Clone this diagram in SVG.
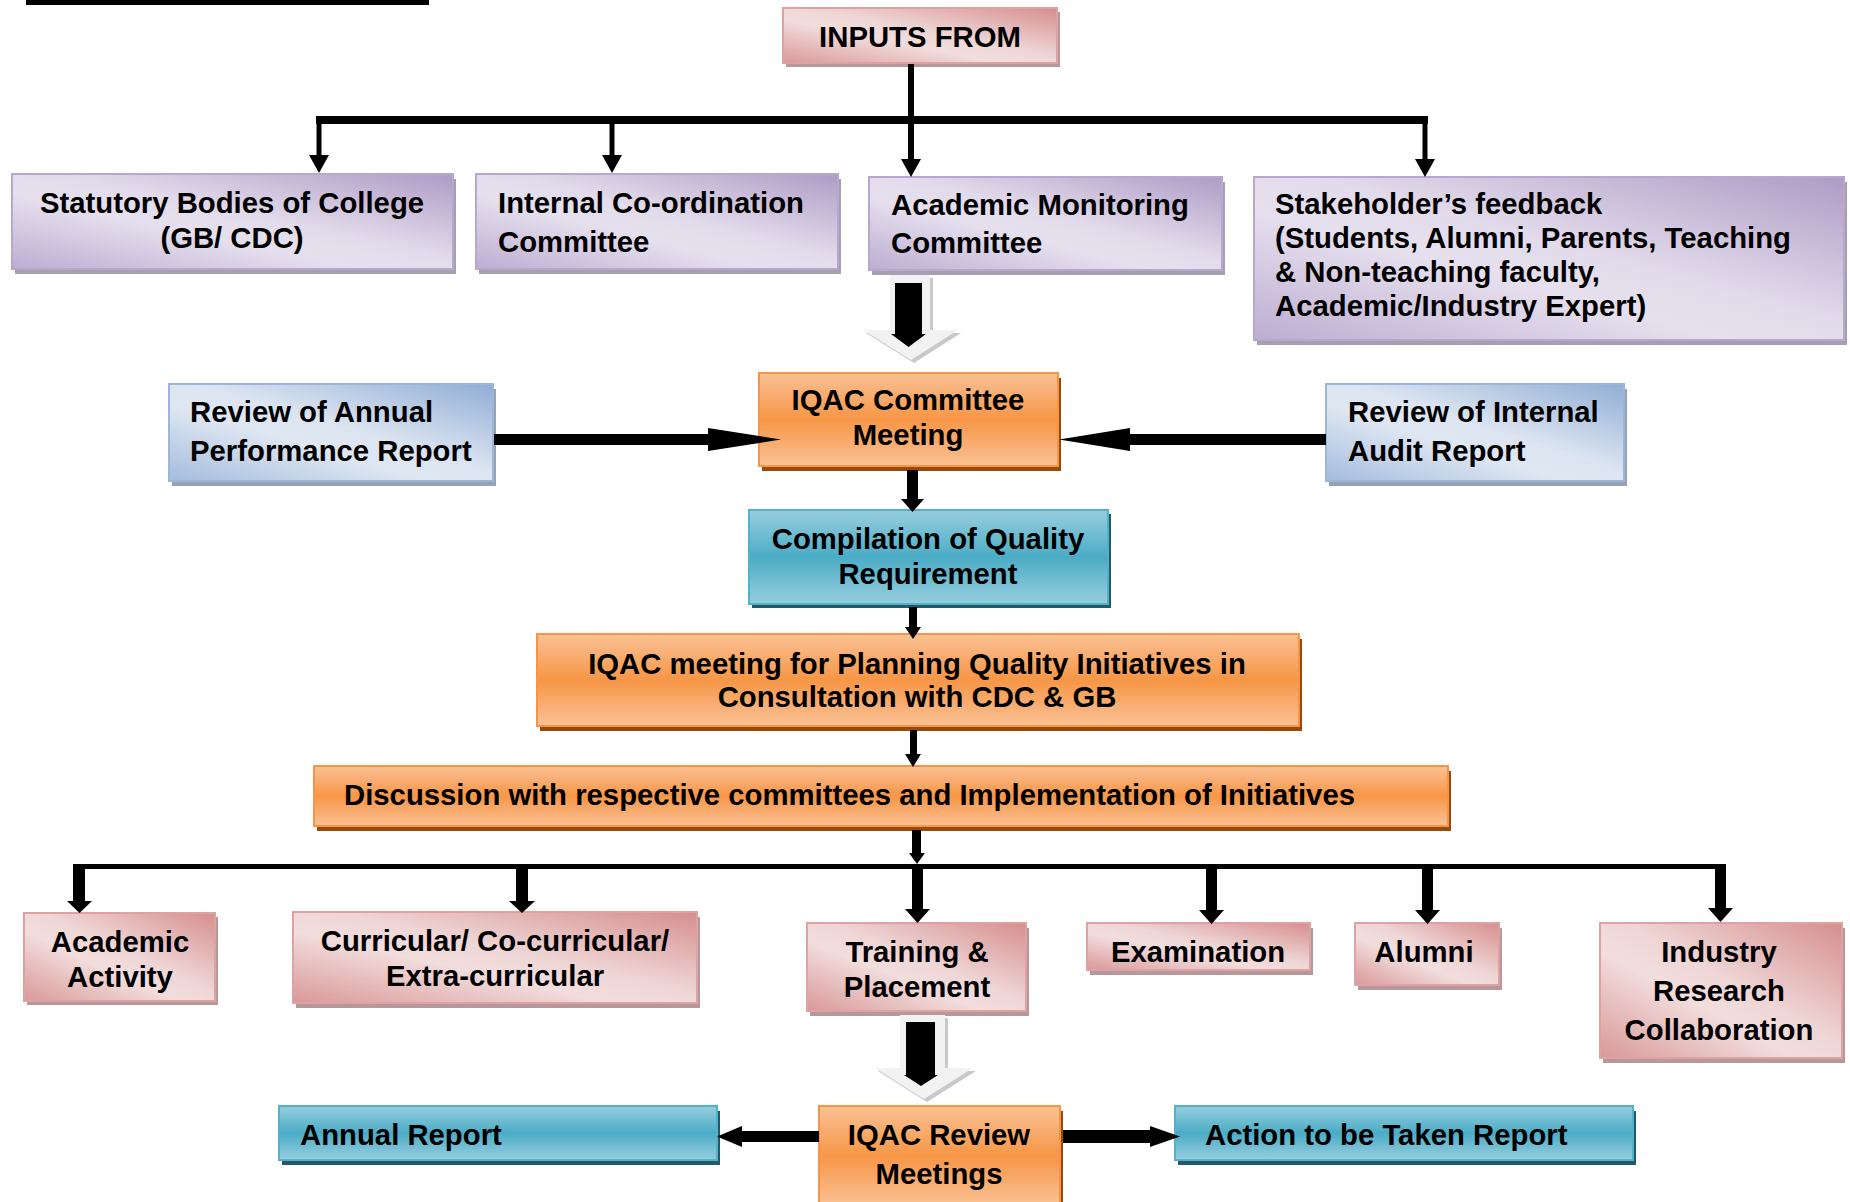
<svg xmlns="http://www.w3.org/2000/svg" width="1850" height="1202" viewBox="0 0 1850 1202">
<defs>
  <linearGradient id="gPink" x1="1" y1="0" x2="0" y2="1">
    <stop offset="0" stop-color="#d68e8e"/>
    <stop offset="0.45" stop-color="#efd6d6"/>
    <stop offset="0.6" stop-color="#f2dddd"/>
    <stop offset="1" stop-color="#d99898"/>
  </linearGradient>
  <linearGradient id="gPurple" x1="1" y1="0" x2="0" y2="1">
    <stop offset="0" stop-color="#ae9bc5"/>
    <stop offset="0.45" stop-color="#e2dbeb"/>
    <stop offset="0.6" stop-color="#e6e0ee"/>
    <stop offset="1" stop-color="#bcadd1"/>
  </linearGradient>
  <linearGradient id="gBlue" x1="1" y1="0" x2="0" y2="1">
    <stop offset="0" stop-color="#90add5"/>
    <stop offset="0.45" stop-color="#dbe4f0"/>
    <stop offset="0.6" stop-color="#dfe7f2"/>
    <stop offset="1" stop-color="#a4bcdd"/>
  </linearGradient>
  <linearGradient id="gOrange" x1="0" y1="0" x2="0" y2="1">
    <stop offset="0" stop-color="#fac291"/>
    <stop offset="0.12" stop-color="#f9b783"/>
    <stop offset="0.5" stop-color="#f79646"/>
    <stop offset="0.88" stop-color="#f9b783"/>
    <stop offset="1" stop-color="#fac291"/>
  </linearGradient>
  <linearGradient id="gTeal" x1="0" y1="0" x2="0" y2="1">
    <stop offset="0" stop-color="#93cddd"/>
    <stop offset="0.12" stop-color="#86c6d8"/>
    <stop offset="0.5" stop-color="#4bacc6"/>
    <stop offset="0.88" stop-color="#86c6d8"/>
    <stop offset="1" stop-color="#93cddd"/>
  </linearGradient>
</defs>
<style>
  .t{font-family:"Liberation Sans",Arial,Helvetica,sans-serif;font-weight:bold;font-size:29.3px;fill:#000}
  .c{text-anchor:middle}
  .pink{fill:url(#gPink);stroke:#dda3a3;stroke-width:2}
  .pinkS{fill:#b7989a}
  .purple{fill:url(#gPurple);stroke:#b8a8cd;stroke-width:2}
  .purpleS{fill:#a59fb1}
  .blue{fill:url(#gBlue);stroke:#9cb6da;stroke-width:2}
  .blueS{fill:#97a3b3}
  .orange{fill:url(#gOrange);stroke:#f7944a;stroke-width:2}
  .orangeS{fill:#9a4a08}
  .teal{fill:url(#gTeal);stroke:#53b1ca;stroke-width:2}
  .tealS{fill:#215a69}
  .k{fill:#000}
  .ln{stroke:#000;fill:none}
  .hollow{fill:#f2f2f2}
  .hollowS{fill:#c9c9c9}
</style>

<rect x="26" y="0" width="403" height="5" fill="#000"/>

<g id="node-inputs">
  <rect class="pinkS" x="786" y="12" width="274" height="55"/>
  <rect class="pink" x="783" y="8" width="274" height="55"/>
  <text class="t c" x="920" y="47">INPUTS FROM</text>
</g>

<g id="node-statutory">
  <rect class="purpleS" x="15" y="179" width="441" height="95"/>
  <rect class="purple" x="12" y="174" width="441" height="95"/>
  <text class="t c" x="232" y="213">Statutory Bodies of College</text>
  <text class="t c" x="232" y="248">(GB/ CDC)</text>
</g>

<g id="node-internal">
  <rect class="purpleS" x="479" y="179" width="362" height="95"/>
  <rect class="purple" x="476" y="174" width="362" height="95"/>
  <text class="t" x="498" y="213">Internal Co-ordination</text>
  <text class="t" x="498" y="252">Committee</text>
</g>

<g id="node-academic-monitoring">
  <rect class="purpleS" x="872" y="182" width="353" height="93"/>
  <rect class="purple" x="869" y="177" width="353" height="93"/>
  <text class="t" x="891" y="215">Academic Monitoring</text>
  <text class="t" x="891" y="253">Committee</text>
</g>

<g id="node-stakeholder">
  <rect class="purpleS" x="1257" y="182" width="590" height="163"/>
  <rect class="purple" x="1254" y="177" width="590" height="163"/>
  <text class="t" x="1275" y="214">Stakeholder’s feedback</text>
  <text class="t" x="1275" y="248">(Students, Alumni, Parents, Teaching</text>
  <text class="t" x="1275" y="282">&amp; Non-teaching faculty,</text>
  <text class="t" x="1275" y="316">Academic/Industry Expert)</text>
</g>

<g id="node-review-annual">
  <rect class="blueS" x="172" y="389" width="324" height="97"/>
  <rect class="blue" x="169" y="384" width="324" height="97"/>
  <text class="t" x="190" y="422">Review of Annual</text>
  <text class="t" x="190" y="461">Performance Report</text>
</g>

<g id="node-iqac-committee">
  <rect class="orangeS" x="762" y="378" width="299" height="93"/>
  <rect class="orange" x="759" y="373" width="299" height="93"/>
  <text class="t c" x="908" y="410">IQAC Committee</text>
  <text class="t c" x="908" y="445">Meeting</text>
</g>

<g id="node-review-internal">
  <rect class="blueS" x="1329" y="389" width="298" height="97"/>
  <rect class="blue" x="1326" y="384" width="298" height="97"/>
  <text class="t" x="1348" y="422">Review of Internal</text>
  <text class="t" x="1348" y="461">Audit Report</text>
</g>

<g id="node-compilation">
  <rect class="tealS" x="752" y="514" width="359" height="94"/>
  <rect class="teal" x="749" y="510" width="359" height="94"/>
  <text class="t c" x="928" y="549">Compilation of Quality</text>
  <text class="t c" x="928" y="584">Requirement</text>
</g>

<g id="node-planning">
  <rect class="orangeS" x="540" y="639" width="762" height="92"/>
  <rect class="orange" x="537" y="634" width="762" height="92"/>
  <text class="t c" x="917" y="674">IQAC meeting for Planning Quality Initiatives in</text>
  <text class="t c" x="917" y="707">Consultation with CDC &amp; GB</text>
</g>

<g id="node-discussion">
  <rect class="orangeS" x="317" y="771" width="1134" height="60"/>
  <rect class="orange" x="314" y="766" width="1134" height="60"/>
  <text class="t" x="344" y="805">Discussion with respective committees and Implementation of Initiatives</text>
</g>

<g id="node-academic-activity">
  <rect class="pinkS" x="27" y="917" width="191" height="88"/>
  <rect class="pink" x="24" y="913" width="191" height="88"/>
  <text class="t c" x="120" y="952">Academic</text>
  <text class="t c" x="120" y="987">Activity</text>
</g>

<g id="node-curricular">
  <rect class="pinkS" x="296" y="917" width="404" height="91"/>
  <rect class="pink" x="293" y="912" width="404" height="91"/>
  <text class="t c" x="495" y="951">Curricular/ Co-curricular/</text>
  <text class="t c" x="495" y="986">Extra-curricular</text>
</g>

<g id="node-training">
  <rect class="pinkS" x="810" y="928" width="219" height="88"/>
  <rect class="pink" x="807" y="923" width="219" height="88"/>
  <text class="t c" x="917" y="962">Training &amp;</text>
  <text class="t c" x="917" y="997">Placement</text>
</g>

<g id="node-examination">
  <rect class="pinkS" x="1090" y="928" width="223" height="47"/>
  <rect class="pink" x="1087" y="923" width="223" height="47"/>
  <text class="t c" x="1198" y="962">Examination</text>
</g>

<g id="node-alumni">
  <rect class="pinkS" x="1358" y="928" width="144" height="62"/>
  <rect class="pink" x="1355" y="923" width="144" height="62"/>
  <text class="t c" x="1424" y="962">Alumni</text>
</g>

<g id="node-industry">
  <rect class="pinkS" x="1603" y="928" width="242" height="135"/>
  <rect class="pink" x="1600" y="923" width="242" height="135"/>
  <text class="t c" x="1719" y="962">Industry</text>
  <text class="t c" x="1719" y="1001">Research</text>
  <text class="t c" x="1719" y="1040">Collaboration</text>
</g>

<g id="node-annual-report">
  <rect class="tealS" x="282" y="1111" width="438" height="54"/>
  <rect class="teal" x="279" y="1106" width="438" height="54"/>
  <text class="t" x="300" y="1145">Annual Report</text>
</g>

<g id="node-iqac-review">
  <rect class="orangeS" x="822" y="1111" width="241" height="100"/>
  <rect class="orange" x="819" y="1106" width="241" height="100"/>
  <text class="t c" x="939" y="1145">IQAC Review</text>
  <text class="t c" x="939" y="1184">Meetings</text>
</g>

<g id="node-action">
  <rect class="tealS" x="1178" y="1111" width="458" height="54"/>
  <rect class="teal" x="1175" y="1106" width="458" height="54"/>
  <text class="t" x="1205" y="1145">Action to be Taken Report</text>
</g>

<g id="connectors">
  <line class="ln" x1="911" y1="64" x2="911" y2="161" stroke-width="6"/>
  <rect class="k" x="316" y="116" width="1112" height="8"/>
  <line class="ln" x1="319" y1="120" x2="319" y2="157" stroke-width="5"/>
  <polygon class="k" points="309,155 329,155 319,173"/>
  <line class="ln" x1="612" y1="120" x2="612" y2="157" stroke-width="5"/>
  <polygon class="k" points="602,155 622,155 612,173"/>
  <polygon class="k" points="901,159 921,159 911,177"/>
  <line class="ln" x1="1425" y1="120" x2="1425" y2="161" stroke-width="5"/>
  <polygon class="k" points="1415,159 1435,159 1425,177"/>

  <polygon class="hollowS" points="893,278 933,278 933,333 961,333 914,363 866,333 893,333"/>
  <polygon class="hollow" points="890,275 930,275 930,330 958,330 911,360 863,330 890,330"/>
  <polygon class="k" points="895,283 922,283 922,334 926,334 908.5,347 891,334 895,334"/>

  <rect class="k" x="494" y="434" width="215" height="11"/>
  <polygon class="k" points="708,428 781,439.5 708,451"/>
  <rect class="k" x="1129" y="434" width="197" height="11"/>
  <polygon class="k" points="1130,428 1059,439.5 1130,451"/>

  <rect class="k" x="907" y="470" width="11" height="30"/>
  <polygon class="k" points="901,499 924,499 912.5,512"/>
  <rect class="k" x="909" y="607" width="8" height="21"/>
  <polygon class="k" points="905,627 921,627 913,639"/>
  <rect class="k" x="910" y="730" width="7" height="25"/>
  <polygon class="k" points="905,754 921,754 913,767"/>
  <rect class="k" x="912" y="830" width="9" height="24"/>
  <polygon class="k" points="909,853 925,853 917,864"/>

  <rect class="k" x="73" y="864" width="1653" height="5"/>
  <rect class="k" x="73" y="864" width="12" height="38"/>
  <polygon class="k" points="67,901 92,901 79.5,913"/>
  <rect class="k" x="516" y="864" width="12" height="38"/>
  <polygon class="k" points="509,901 535,901 522,913"/>
  <rect class="k" x="912" y="864" width="11" height="46"/>
  <polygon class="k" points="905,909 930,909 917.5,923"/>
  <rect class="k" x="1206" y="864" width="11" height="47"/>
  <polygon class="k" points="1199,910 1224,910 1211.5,924"/>
  <rect class="k" x="1422" y="864" width="11" height="47"/>
  <polygon class="k" points="1415,910 1440,910 1427.5,924"/>
  <rect class="k" x="1715" y="864" width="11" height="45"/>
  <polygon class="k" points="1708,908 1733,908 1720.5,922"/>

  <polygon class="hollowS" points="903,1018 948,1018 948,1071 976,1071 927,1102 878,1071 903,1071"/>
  <polygon class="hollow" points="900,1015 945,1015 945,1068 973,1068 924,1099 875,1068 900,1068"/>
  <polygon class="k" points="906,1022 935,1022 935,1075 938,1075 921,1086 904,1075 906,1075"/>

  <rect class="k" x="739" y="1131" width="80" height="11"/>
  <polygon class="k" points="742,1126 742,1147 717,1136.5"/>
  <rect class="k" x="1063" y="1130" width="89" height="13"/>
  <polygon class="k" points="1150,1126 1150,1147 1180,1136.5"/>
</g>
</svg>
